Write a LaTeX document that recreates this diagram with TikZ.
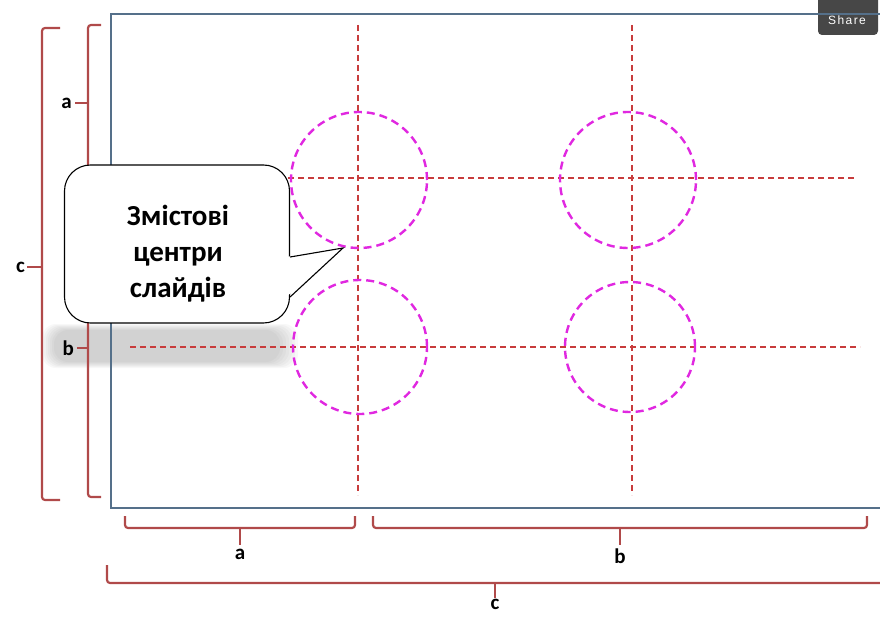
\documentclass[tikz,border=0pt]{standalone}
\usepackage{fontspec}
\setmainfont{Carlito}
\newfontfamily\sharefont[LetterSpace=12]{Liberation Sans}
\usetikzlibrary{calc,positioning}
\definecolor{brace}{HTML}{B04A4A}
\definecolor{frame}{HTML}{55708A}
\definecolor{guide}{HTML}{C83C3C}
\definecolor{centre}{HTML}{E028E0}
\tikzset{%
	bracket/.style   = {draw=brace, line width=2.2pt, line join=round, rounded corners=3pt},
	guideline/.style = {draw=guide, line width=1.2pt, dash pattern=on 6pt off 4pt},
	zone/.style      = {draw=centre, line width=2.4pt, dash pattern=on 8pt off 5pt},
	lbl/.style       = {font=\bfseries\fontsize{21}{21}\selectfont, inner sep=1pt},
	bubble/.style    = {draw, fill=white, line width=1.1pt, rounded corners=26pt, minimum width=225pt, minimum height=158pt},
	bubbletext/.style= {align=center, font=\bfseries\fontsize{29}{36}\selectfont},
}
\begin{document}
\begin{tikzpicture}[x=1pt,y=-1pt]
	\useasboundingbox (0,0) rectangle (880,617);
	
	% shadow of the bubble
	\foreach \s in {0,...,6} \fill[black, opacity=0.026, rounded corners=14pt] (42+2*\s,324+\s) rectangle (298-3*\s,368-\s);
	
	% share button
	\fill[black!72, rounded corners=4pt] (818,-6) rectangle (878,35);
	\node[text=white, font=\sharefont\fontsize{12}{12}\selectfont] (share) at (847,20) {Share};
	
	% slide frame
	\draw[frame, line width=1.6pt] (885,14) -- (111,14) -- (111,508) -- (885,508);
	
	% guides
	\draw[guideline] (358,25) -- (358,495);
	\draw[guideline] (632,25) -- (632,495);
	\draw[guideline] (268,178) -- (855,178);
	\draw[guideline] (130,347) -- (860,347);
	
	% content centres
	\draw[zone] (359,180) circle[radius=68pt];
	\draw[zone] (628,180) circle[radius=68pt];
	\draw[zone] (360,347) circle[radius=67pt];
	\draw[zone] (630,347) circle[radius=65pt];
	
	% left brackets
	\draw[bracket] (60,28) -- (42,28) -- (42,500) -- (60,500);
	\draw[bracket] (42,267) -- (27,267) coordinate (cLeft);
	\node[lbl, left=1pt of cLeft] (labelCLeft) {c};
	\draw[bracket] (101,25) -- (88,25) -- (88,497) -- (101,497);
	\draw[bracket] (88,103) -- (75,103) coordinate (aLeft);
	\node[lbl, left=2pt of aLeft] (labelALeft) {a};
	\draw[bracket] (88,348) -- (77,348) coordinate (bLeft);
	\node[lbl, left=2pt of bLeft] (labelBLeft) {b};
	
	% bottom brackets
	\draw[bracket] (125,516) -- (125,528) -- (355,528) -- (355,516);
	\draw[bracket] (240,528) -- (240,545) coordinate (aBottom);
	\node[lbl, below=3pt of aBottom] (labelABottom) {a};
	\draw[bracket] (373,516) -- (373,528) -- (867,528) -- (867,516);
	\draw[bracket] (620,528) -- (620,545) coordinate (bBottom);
	\node[lbl, below=3pt of bBottom] (labelBBottom) {b};
	\draw[bracket] (107,565) -- (107,583) -- (890,583);
	\draw[bracket] (495,583) -- (495,598) coordinate (cBottom);
	\node[lbl, below=0pt of cBottom] (labelCBottom) {c};
	
	% callout
	\node[bubble] (bubble) at (177,244) {};
	\coordinate (tip) at (343,248);
	\fill[white] ($(bubble.east)+(-4,13)$) -- (tip) -- ($(bubble.east)+(-4,53)$) -- cycle;
	\draw[line width=1.1pt, line join=miter] ($(bubble.east)+(0,13)$) -- (tip) -- ($(bubble.east)+(0,53)$);
	\node[bubbletext] (words) at ($(bubble.center)+(1,10)$) {Змістові\\центри\\слайдів};
\end{tikzpicture}
\end{document}
